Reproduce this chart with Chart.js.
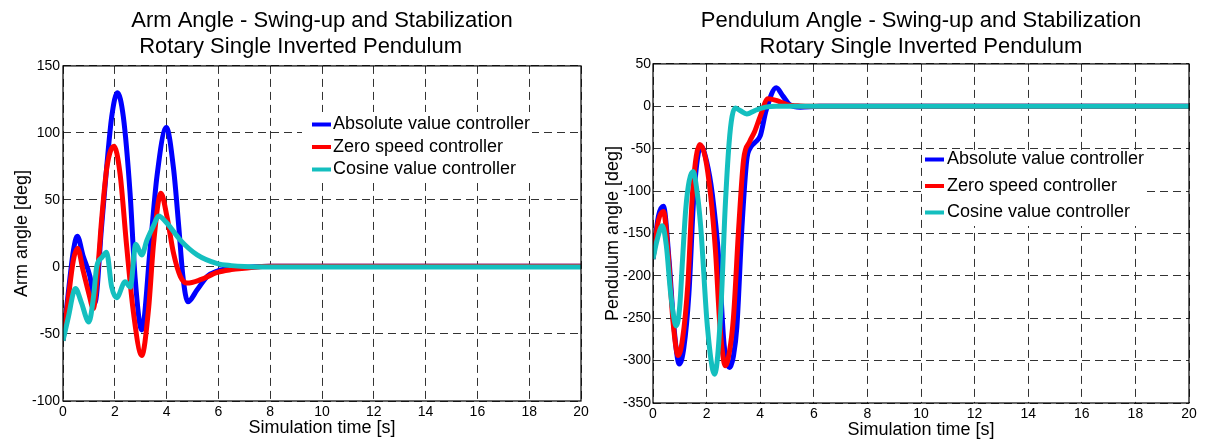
<!DOCTYPE html>
<html>
<head>
<meta charset="utf-8">
<script src="https://cdn.jsdelivr.net/npm/chart.js@4.4.1/dist/chart.umd.min.js"></script>
<style>
  html, body { margin: 0; padding: 0; background: #fff; }
  #wrap { position: relative; width: 1207px; height: 439px; overflow: hidden; }
  .box { position: absolute; top: 0; height: 439px; }
  #armBox { left: 0; width: 600px; }
  #pendBox { left: 600px; width: 607px; }
</style>
</head>
<body>
<div id="wrap">
  <div class="box" id="armBox"><canvas id="armChart"></canvas></div>
  <div class="box" id="pendBox"><canvas id="pendChart"></canvas></div>
</div>
<script>
var seriesNames = ['Absolute value controller', 'Zero speed controller', 'Cosine value controller'];

// arm angle [deg] vs time [s]
var armAbsT = [0, 0.2, 0.4, 0.55, 0.78, 1.04, 1.23, 1.49, 1.68, 1.88, 2.1, 2.33, 2.59, 2.78, 3.04, 3.37, 3.63, 3.99, 4.27, 4.47, 4.63, 4.82, 5.18, 5.57, 5.96, 6.5, 7, 8, 20];
var armAbsV = [-55, -20, 12, 23, 8, -7, -27, 30, 73, 112, 130, 112, 55, -7, -47, 15, 68, 104, 73, 30, -7, -26, -17, -7, -3, -1, -0.3, 0.5, 0.5];
var armZeroT = [0, 0.2, 0.4, 0.56, 0.78, 1.0, 1.17, 1.35, 1.49, 1.7, 1.97, 2.2, 2.46, 2.72, 3.04, 3.3, 3.5, 3.78, 4.01, 4.27, 4.53, 4.79, 5.31, 5.96, 6.5, 7, 8, 20];
var armZeroV = [-55, -24, 5, 14, -3, -20, -31, 0, 35, 75, 90, 70, 15, -34, -66, -32, 18, 55, 38, 10, -7, -12, -9.5, -4, -2, -1, 0.5, 0.5];
var armCosT = [0, 0.2, 0.48, 0.7, 1.0, 1.18, 1.3, 1.5, 1.68, 1.88, 2.07, 2.4, 2.6, 2.81, 3.04, 3.24, 3.5, 3.69, 4.0, 4.53, 5.18, 5.96, 6.5, 7, 8, 20];
var armCosV = [-55, -38, -16, -26, -41, -22, 0, 7, 11, -15, -23, -11, -15, 17, 9, 20, 31, 38, 33, 20, 9, 2.5, 1, 0.3, 0, 0];

// pendulum angle [deg] vs time [s]
var pendAbsT = [0, 0.2, 0.39, 0.6, 0.78, 0.98, 1.15, 1.34, 1.53, 1.79, 2.0, 2.21, 2.46, 2.65, 2.87, 3.0, 3.13, 3.32, 3.5, 3.65, 3.79, 4.0, 4.22, 4.6, 4.85, 5.1, 5.5, 6.2, 20];
var pendAbsV = [-180, -130, -118, -182, -260, -304, -285, -221, -103, -47, -65, -103, -182, -280, -308, -295, -260, -142, -63, -48, -43, -35, -5, 22, 12, 2, -1, 0, 0];
var pendZeroT = [0, 0.2, 0.39, 0.58, 0.75, 0.94, 1.1, 1.3, 1.48, 1.75, 1.95, 2.15, 2.33, 2.5, 2.7, 2.85, 3.0, 3.2, 3.38, 3.6, 3.79, 4.0, 4.29, 4.6, 5.0, 5.5, 6.5, 20];
var pendZeroV = [-180, -135, -124, -180, -255, -294, -275, -210, -100, -45, -60, -105, -170, -260, -306, -290, -250, -142, -63, -42, -30, -12, 9, 7, 2, 0.5, 0, 0];
var pendCosT = [0, 0.15, 0.35, 0.5, 0.66, 0.87, 1.0, 1.1, 1.22, 1.35, 1.5, 1.62, 1.78, 2.03, 2.3, 2.53, 2.69, 2.84, 2.95, 3.07, 3.25, 3.5, 3.8, 4.2, 4.6, 20];
var pendCosV = [-180, -158, -141, -165, -221, -259, -235, -182, -122, -88, -77, -95, -142, -260, -316, -241, -122, -43, -12, -2, -5, -9, -5, -1, 0, 0];

var seriesColors = ['#0000ff', '#ff0000', '#14bfbf'];
var fontFamily = '"Liberation Sans", Arial, Helvetica, sans-serif';

Chart.defaults.font.family = fontFamily;
Chart.defaults.color = '#000';

function toPoints(ts, vs) {
    return ts.map(function(t, i) { return { x: t, y: vs[i] }; });
}

function makeDatasets(sets) {
    return sets.map(function(s, i) {
        return {
            label: seriesNames[i],
            data: toPoints(s[0], s[1]),
            borderColor: seriesColors[i],
            backgroundColor: seriesColors[i],
            borderWidth: 5,
            pointRadius: 0,
            fill: false,
            cubicInterpolationMode: 'monotone',
            order: 3 - i
        };
    });
}

// legend drawn inside the plot on a white patch, as in the figure
var boxLegend = {
    id: 'boxLegend',
    afterDatasetsDraw: function(chart, args, o) {
        var ctx = chart.ctx;
        ctx.save();
        ctx.fillStyle = '#fff';
        ctx.fillRect(o.left, o.top, o.width, o.height);
        ctx.font = o.fontSize + 'px ' + fontFamily;
        ctx.textBaseline = 'middle';
        ctx.textAlign = 'left';
        chart.data.datasets.forEach(function(ds, i) {
            var y = o.firstRow + i * o.rowGap;
            ctx.strokeStyle = ds.borderColor;
            ctx.lineWidth = 4;
            ctx.beginPath();
            ctx.moveTo(o.lineFrom, y);
            ctx.lineTo(o.lineTo, y);
            ctx.stroke();
            ctx.fillStyle = '#000';
            ctx.fillText(ds.label, o.textX, y);
        });
        ctx.restore();
    }
};

var plotFrame = {
    id: 'plotFrame',
    afterDraw: function(chart) {
        var a = chart.chartArea;
        var ctx = chart.ctx;
        ctx.save();
        ctx.strokeStyle = '#000';
        ctx.lineWidth = 1.2;
        ctx.strokeRect(a.left, a.top, a.right - a.left, a.bottom - a.top);
        ctx.restore();
    }
};

function makeChart(id, cfg) {
    return new Chart(document.getElementById(id), {
        type: 'line',
        data: { datasets: makeDatasets(cfg.sets) },
        options: {
            animation: false,
            responsive: true,
            maintainAspectRatio: false,
            layout: { padding: { left: 0, right: cfg.padRight, top: 0, bottom: 0 } },
            plugins: {
                legend: { display: false },
                tooltip: { enabled: false },
                title: {
                    display: true,
                    fullSize: false,
                    text: cfg.title,
                    color: '#000',
                    font: { size: 22, weight: 'normal', lineHeight: 1.18 },
                    padding: { top: 7.5, bottom: cfg.titleGap }
                },
                boxLegend: cfg.legend
            },
            scales: {
                x: {
                    type: 'linear',
                    min: 0,
                    max: 20,
                    afterFit: function(scale) { scale.height = cfg.xHeight; },
                    ticks: { stepSize: 2, autoSkip: false, padding: 3, color: '#000', font: { size: 14 } },
                    grid: { color: '#333', lineWidth: 1, drawTicks: false },
                    border: { display: false, dash: [8, 5] },
                    title: {
                        display: true,
                        text: 'Simulation time [s]',
                        color: '#000',
                        font: { size: 18, lineHeight: cfg.xTitleLH },
                        padding: { top: 0, bottom: 0 }
                    }
                },
                y: {
                    type: 'linear',
                    min: cfg.yMin,
                    max: cfg.yMax,
                    afterFit: function(scale) { scale.width = cfg.yWidth; },
                    ticks: { stepSize: 50, autoSkip: false, padding: cfg.yTickPad, color: '#000', font: { size: 14 } },
                    grid: { color: '#333', lineWidth: 1, drawTicks: false },
                    border: { display: false, dash: [8, 5] },
                    title: {
                        display: true,
                        text: cfg.yTitle,
                        color: '#000',
                        font: { size: 18 },
                        padding: { top: cfg.yTitlePad, bottom: 0 }
                    }
                }
            }
        },
        plugins: [boxLegend, plotFrame]
    });
}

makeChart('armChart', {
    sets: [[armAbsT, armAbsV], [armZeroT, armZeroV], [armCosT, armCosV]],
    title: ['Arm Angle - Swing-up and Stabilization', 'Rotary Single Inverted Pendulum       '],
    yTitle: 'Arm angle [deg]',
    yMin: -100, yMax: 150,
    padRight: 19, yWidth: 63, xHeight: 38, titleGap: 6.5,
    yTickPad: 3, yTitlePad: 11, xTitleLH: 1.2,
    legend: { left: 302, top: 112, width: 230, height: 71, firstRow: 124.5, rowGap: 22.5, lineFrom: 312, lineTo: 331, textX: 333, fontSize: 18 }
});

makeChart('pendChart', {
    sets: [[pendAbsT, pendAbsV], [pendZeroT, pendZeroV], [pendCosT, pendCosV]],
    title: ['Pendulum Angle - Swing-up and Stabilization', 'Rotary Single Inverted Pendulum'],
    yTitle: 'Pendulum angle [deg]',
    yMin: -350, yMax: 50,
    padRight: 18, yWidth: 53, xHeight: 36, titleGap: 4.5,
    yTickPad: 2, yTitlePad: 2, xTitleLH: 1.0,
    legend: { left: 324, top: 151, width: 218, height: 75, firstRow: 159.5, rowGap: 26.5, lineFrom: 325, lineTo: 344, textX: 347, fontSize: 18 }
});
</script>
</body>
</html>
